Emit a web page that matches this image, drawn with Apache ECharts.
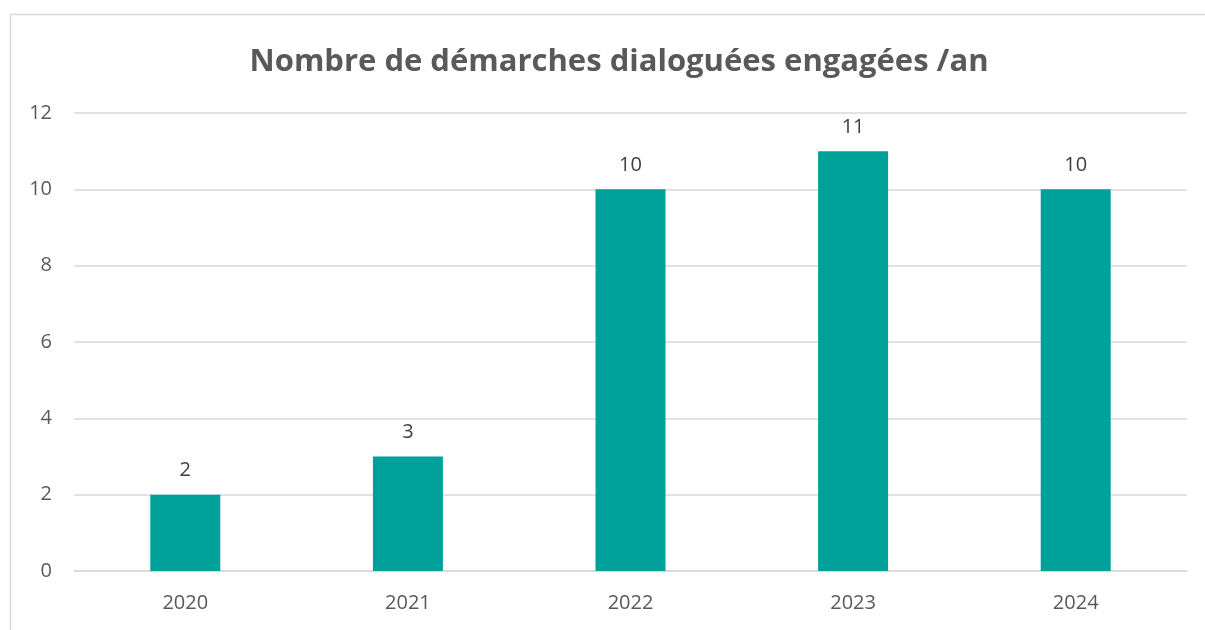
<!DOCTYPE html>
<html>
<head>
<meta charset="utf-8">
<script src="https://cdn.jsdelivr.net/npm/echarts@6/dist/echarts.min.js"></script>
<style>
html, body { margin: 0; padding: 0; background: #fff; }
#chart { width: 1205px; height: 630px; }
</style>
</head>
<body>
<div id="chart"></div>
<script>
const years = ['2020', '2021', '2022', '2023', '2024'];
const demarches = [2, 3, 10, 11, 10];
const titleText = 'Nombre de démarches dialoguées engagées /an';

let chartDom = document.getElementById('chart');
let myChart = echarts.init(chartDom, null, { renderer: 'canvas' });

let option = {
    backgroundColor: '#fff',
    animation: false,
    textStyle: { fontFamily: 'Open Sans, sans-serif' },
    graphic: [
        {
            type: 'rect',
            shape: { x: 10.5, y: 14.5, width: 1300, height: 700 },
            style: { fill: 'none', stroke: '#d9d9d9', lineWidth: 1.5 },
            silent: true
        }
    ],
    title: {
        text: titleText,
        left: 614,
        textAlign: 'center',
        top: 42,
        textStyle: {
            fontSize: 31,
            fontWeight: 'bold',
            color: '#595959',
            fontFamily: 'Open Sans, sans-serif'
        }
    },
    grid: {
        left: 74,
        right: 18,
        top: 113,
        bottom: 59,
        containLabel: false
    },
    xAxis: {
        type: 'category',
        data: years,
        axisLine: { show: true, lineStyle: { color: '#d9d9d9', width: 1.5 } },
        axisTick: { show: false },
        axisLabel: { color: '#595959', fontSize: 20, margin: 22 }
    },
    yAxis: {
        type: 'value',
        min: 0,
        max: 12,
        interval: 2,
        axisLine: { show: false },
        axisTick: { show: false },
        splitLine: { lineStyle: { color: '#d9d9d9', width: 1.5 } },
        axisLabel: { color: '#595959', fontSize: 20, margin: 22 }
    },
    series: [
        {
            type: 'bar',
            data: demarches,
            barWidth: 70,
            itemStyle: { color: '#00a19a' },
            label: {
                show: true,
                position: 'top',
                distance: 14,
                color: '#404040',
                fontSize: 20
            }
        }
    ]
};

option && myChart.setOption(option);
</script>
</body>
</html>
